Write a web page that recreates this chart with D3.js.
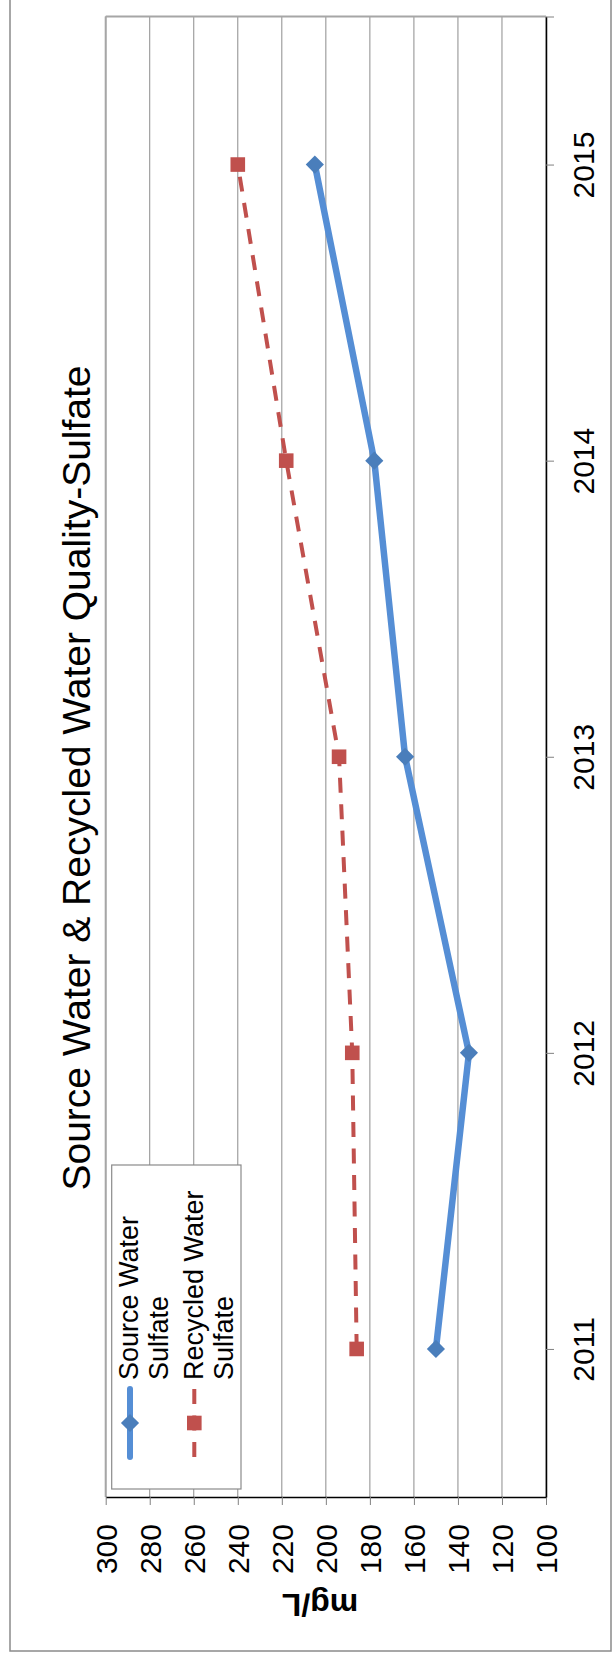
<!DOCTYPE html>
<html>
<head>
<meta charset="utf-8">
<script src="https://cdn.jsdelivr.net/npm/d3@7"></script>
<style>
  html, body { margin: 0; padding: 0; background: #fff; }
  svg { display: block; font-family: "Liberation Sans", Arial, sans-serif; }
</style>
</head>
<body>
<svg id="chart" width="613" height="1658"></svg>
<script>
// ---- data ----
const years = [2011, 2012, 2013, 2014, 2015];
const sourceWater = [150, 135, 164, 178, 205];
const recycledWater = [186, 188, 194, 218, 240];
const valueTicks = [100, 120, 140, 160, 180, 200, 220, 240, 260, 280, 300];
const yearTicks = [2011, 2012, 2013, 2014, 2015, 2015.5];
const seriesNames = ["Source Water Sulfate", "Recycled Water Sulfate"];
const titleText = "Source Water & Recycled Water Quality-Sulfate";
const axisTitle = "mg/L";

const svg = d3.select("#chart");

// plot geometry (chart is drawn rotated: values run horizontally, years vertically)
const plot = { left: 105.7, right: 546, top: 16.5, bottom: 1497 };
const x = d3.scaleLinear().domain([100, 300]).range([plot.right, plot.left]);
const y = d3.scaleLinear().domain([2010.5, 2015.5]).range([plot.bottom, plot.top]);

// outer chart border
svg.append("rect")
  .attr("x", 10).attr("y", -5).attr("width", 601).attr("height", 1656)
  .attr("fill", "#fff").attr("stroke", "#8a8a8a").attr("stroke-width", 1.5);

// gridlines
svg.append("g").selectAll("line").data(valueTicks).join("line")
  .attr("x1", d => x(d)).attr("x2", d => x(d))
  .attr("y1", plot.top).attr("y2", plot.bottom)
  .attr("stroke", "#8c8c8c").attr("stroke-width", 1);

// plot area border (top edge & left edge gray)
svg.append("line").attr("x1", plot.left).attr("x2", plot.right)
  .attr("y1", plot.top).attr("y2", plot.top)
  .attr("stroke", "#a6a6a6").attr("stroke-width", 2);
svg.append("line").attr("x1", plot.left).attr("x2", plot.left)
  .attr("y1", plot.top).attr("y2", plot.bottom)
  .attr("stroke", "#a6a6a6").attr("stroke-width", 2);

// value axis (bottom of screen)
const gx = svg.append("g").attr("transform", `translate(0,${plot.bottom})`)
  .call(d3.axisBottom(x).tickValues(valueTicks).tickSize(8).tickSizeOuter(0).tickFormat(d3.format("d")));
gx.select(".domain").attr("stroke", "#000").attr("stroke-width", 1.5);
gx.selectAll(".tick line").attr("stroke", "#808080");
gx.selectAll(".tick text")
  .attr("font-size", 30).attr("fill", "#000")
  .attr("text-anchor", "end")
  .attr("transform", "rotate(-90)")
  .attr("x", -27).attr("y", 0).attr("dy", "0.36em");

// year axis (right of screen)
const gy = svg.append("g").attr("transform", `translate(${plot.right},0)`)
  .call(d3.axisRight(y).tickValues(yearTicks).tickSize(8).tickSizeOuter(0)
    .tickFormat(d => Number.isInteger(d) ? String(d) : ""));
gy.select(".domain").attr("stroke", "#000").attr("stroke-width", 1.5);
gy.selectAll(".tick line").attr("stroke", "#808080");
gy.selectAll(".tick text")
  .attr("font-size", 30).attr("fill", "#000")
  .attr("text-anchor", "middle")
  .attr("x", 0).attr("y", 0).attr("dy", "0.36em")
  .attr("transform", "translate(37,0) rotate(-90)");

// series
const blueLine = "#558ed5", blueMarker = "#4a7ebb";
const redLine = "#c0504d", redMarker = "#c0504d";
const line = d3.line().x(d => x(d.v)).y(d => y(d.year));
const srcData = years.map((yr, i) => ({ year: yr, v: sourceWater[i] }));
const recData = years.map((yr, i) => ({ year: yr, v: recycledWater[i] }));

svg.append("path").datum(recData).attr("d", line)
  .attr("fill", "none").attr("stroke", redLine).attr("stroke-width", 4)
  .attr("stroke-dasharray", "15,11.5");
svg.append("path").datum(srcData).attr("d", line)
  .attr("fill", "none").attr("stroke", blueLine).attr("stroke-width", 6.5)
  .attr("stroke-linejoin", "round");

const diamond = d3.symbol().type(d3.symbolDiamond2).size(210);
svg.append("g").selectAll("path").data(srcData).join("path")
  .attr("transform", d => `translate(${x(d.v)},${y(d.year)})`)
  .attr("d", diamond).attr("fill", blueMarker);

svg.append("g").selectAll("rect").data(recData).join("rect")
  .attr("x", d => x(d.v) - 7.3).attr("y", d => y(d.year) - 7.3)
  .attr("width", 14.6).attr("height", 14.6).attr("fill", redMarker);

// legend
const lg = svg.append("g");
lg.append("rect").attr("x", 111.7).attr("y", 1165).attr("width", 129.3).attr("height", 324)
  .attr("fill", "#fff").attr("stroke", "#8a8a8a").attr("stroke-width", 1.2);

lg.append("line").attr("x1", 130).attr("x2", 130).attr("y1", 1389).attr("y2", 1457)
  .attr("stroke", blueLine).attr("stroke-width", 6).attr("stroke-linecap", "round");
lg.append("path").attr("transform", "translate(130,1423)").attr("d", diamond).attr("fill", blueMarker);

lg.append("line").attr("x1", 194.3).attr("x2", 194.3).attr("y1", 1389).attr("y2", 1458)
  .attr("stroke", redLine).attr("stroke-width", 4).attr("stroke-dasharray", "15,11.5");
lg.append("rect").attr("x", 194.3 - 7.3).attr("y", 1423 - 7.3).attr("width", 14.6).attr("height", 14.6)
  .attr("fill", redMarker);

const legendLines = [
  { text: "Source Water", bx: 138 },
  { text: "Sulfate", bx: 168 },
  { text: "Recycled Water", bx: 203 },
  { text: "Sulfate", bx: 233 }
];
lg.selectAll("text").data(legendLines).join("text")
  .attr("transform", d => `translate(${d.bx},1380) rotate(-90)`)
  .attr("font-size", 27).attr("fill", "#000").attr("text-anchor", "start")
  .text(d => d.text);

// title
svg.append("text")
  .attr("transform", "translate(90,778) rotate(-90)")
  .attr("text-anchor", "middle").attr("font-size", 39).attr("fill", "#000")
  .text(titleText);

// axis title (upside down)
svg.append("text")
  .attr("transform", "translate(320,1594) rotate(180)")
  .attr("text-anchor", "middle").attr("font-size", 32).attr("font-weight", "bold").attr("fill", "#000")
  .text(axisTitle);
</script>
</body>
</html>
